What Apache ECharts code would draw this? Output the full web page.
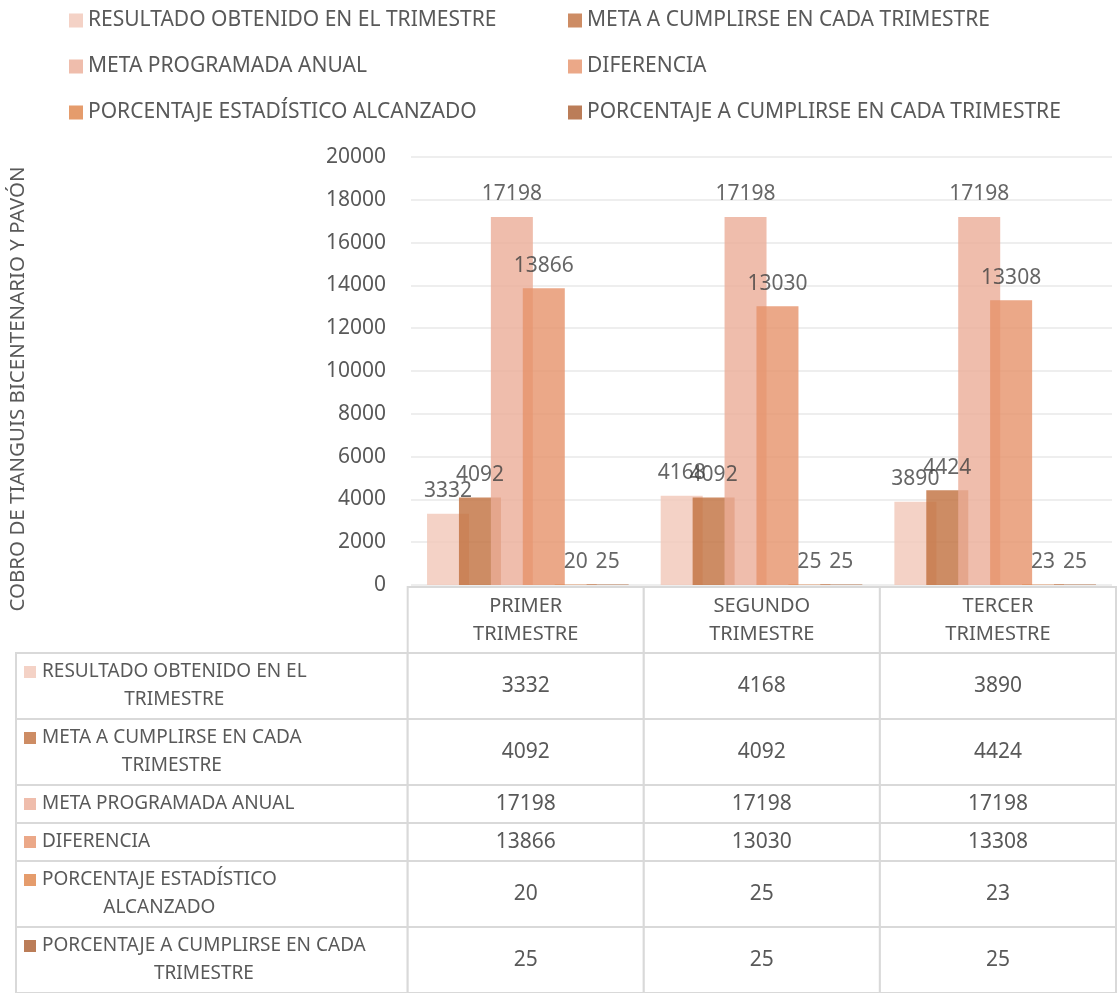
<!DOCTYPE html>
<html>
<head>
<meta charset="utf-8">
<script src="https://cdn.jsdelivr.net/npm/echarts@6/dist/echarts.min.js"></script>
<style>
  html, body { margin: 0; padding: 0; background: #fff; }
  #chart { width: 1117px; height: 993px; }
</style>
</head>
<body>
<div id="chart"></div>
<script>
const categories = ["PRIMER TRIMESTRE", "SEGUNDO TRIMESTRE", "TERCER TRIMESTRE"];
const seriesNames = [
  "RESULTADO OBTENIDO EN EL TRIMESTRE",
  "META A CUMPLIRSE EN CADA TRIMESTRE",
  "META PROGRAMADA ANUAL",
  "DIFERENCIA",
  "PORCENTAJE ESTADÍSTICO ALCANZADO",
  "PORCENTAJE A CUMPLIRSE EN CADA TRIMESTRE"
];
const resultado = [3332, 4168, 3890];
const metaTrimestre = [4092, 4092, 4424];
const metaAnual = [17198, 17198, 17198];
const diferencia = [13866, 13030, 13308];
const porcentajeAlcanzado = [20, 25, 23];
const porcentajeTrimestre = [25, 25, 25];
const yTicks = { min: 0, max: 20000, interval: 2000 };
const axisTitle = "COBRO DE TIANGUIS BICENTENARIO Y PAVÓN";

const allSeries = [resultado, metaTrimestre, metaAnual, diferencia, porcentajeAlcanzado, porcentajeTrimestre];
const colors = ["#f1c7b8", "#c06f3d", "#ebad97", "#e6926a", "#de8347", "#aa5c2e"];
const textColor = "#595959";
const labelFont = '19px "Noto Sans"';
const headerFont = '20px "Noto Sans"';
const valueFont = '21px "Noto Sans"';
const lineH = 28;

// simple word wrap so the table cells break like the original
const measureCtx = document.createElement("canvas").getContext("2d");
function wrapText(text, font, maxWidth) {
  measureCtx.font = font;
  const words = text.split(" ");
  const lines = [];
  let line = "";
  words.forEach((w) => {
    const test = line ? line + " " + w : w;
    if (line && measureCtx.measureText(test).width > maxWidth) {
      lines.push(line);
      line = w;
    } else {
      line = test;
    }
  });
  lines.push(line);
  const width = Math.max(...lines.map((l) => measureCtx.measureText(l).width));
  return { lines, width };
}

const labelColUnits = 392 / 236.3;
const headerWraps = categories.map((c) => wrapText(c, headerFont, 140));
const rowWraps = seriesNames.map((n) => wrapText(n, labelFont, 340));
const rowLines = [Math.max(...headerWraps.map((w) => w.lines.length))].concat(rowWraps.map((w) => w.lines.length));
const rowTops = [0];
rowLines.forEach((n) => rowTops.push(rowTops[rowTops.length - 1] + 10 + lineH * n));

const tableCells = [];
categories.forEach((c, ci) => tableCells.push([0, ci]));
seriesNames.forEach((n, ri) => {
  tableCells.push([ri + 1, -1]);
  categories.forEach((c, ci) => tableCells.push([ri + 1, ci]));
});

const chart = echarts.init(document.getElementById("chart"));

const barSeries = seriesNames.map((name, i) => ({
  name: name,
  type: "bar",
  xAxisIndex: 0,
  yAxisIndex: 0,
  data: allSeries[i],
  barWidth: 42,
  barGap: "-24%",
  itemStyle: { color: colors[i], opacity: 0.8 },
  label: {
    show: true,
    position: "top",
    distance: 12,
    fontSize: 21,
    fontFamily: "Noto Sans",
    color: "#404040"
  }
}));

const legendBase = {
  orient: "vertical",
  top: 5,
  itemGap: 25,
  itemWidth: 14,
  itemHeight: 14,
  icon: "rect",
  textStyle: { fontSize: 21, color: textColor, lineHeight: 20 }
};

chart.setOption({
  animation: false,
  textStyle: { fontFamily: "Noto Sans" },
  legend: [
    Object.assign({}, legendBase, { left: 64, data: [seriesNames[0], seriesNames[2], seriesNames[4]] }),
    Object.assign({}, legendBase, { left: 563, data: [seriesNames[1], seriesNames[3], seriesNames[5]] })
  ],
  grid: [
    { left: 405, right: 5, top: 157, bottom: 408 },
    { left: 16, right: 1, top: 587, bottom: 0 }
  ],
  xAxis: [
    {
      type: "category",
      gridIndex: 0,
      data: categories,
      axisLabel: { show: false },
      axisTick: { show: false },
      axisLine: { show: false }
    },
    { type: "value", gridIndex: 1, min: -labelColUnits, max: 3, show: false }
  ],
  yAxis: [
    {
      type: "value",
      gridIndex: 0,
      min: yTicks.min,
      max: yTicks.max,
      interval: yTicks.interval,
      name: axisTitle,
      nameLocation: "middle",
      nameGap: 382,
      nameTextStyle: { fontSize: 20.5, color: textColor, padding: [0, 36, 0, 0] },
      axisLabel: { fontSize: 21, color: textColor, margin: 25, formatter: (v) => String(v) },
      axisLine: { show: false },
      axisTick: { show: false },
      splitLine: { lineStyle: { color: "#e8e8e8", width: 1.5 } }
    },
    {
      type: "value",
      gridIndex: 1,
      inverse: true,
      min: 0,
      max: rowTops[rowTops.length - 1],
      show: false
    }
  ],
  series: barSeries.concat([
    {
      type: "custom",
      xAxisIndex: 1,
      yAxisIndex: 1,
      data: tableCells,
      silent: true,
      clip: false,
      renderItem: function (params, api) {
        const r = api.value(0);
        const c = api.value(1);
        const x0 = c < 0 ? -labelColUnits : c;
        const x1 = c < 0 ? 0 : c + 1;
        const pA = api.coord([x0, rowTops[r]]);
        const pB = api.coord([x1, rowTops[r + 1]]);
        const left = Math.min(pA[0], pB[0]);
        const top = Math.min(pA[1], pB[1]);
        const w = Math.abs(pB[0] - pA[0]);
        const h = Math.abs(pB[1] - pA[1]);
        const cy = top + h / 2;
        const children = [{
          type: "rect",
          shape: { x: left, y: top, width: w, height: h },
          style: { fill: "#fff", stroke: "#d9d9d9", lineWidth: 2 }
        }];
        if (r === 0) {
          children.push({
            type: "text",
            style: {
              text: headerWraps[c].lines.join("\n"),
              x: left + w / 2, y: cy,
              align: "center", verticalAlign: "middle",
              font: headerFont, lineHeight: lineH, fill: textColor
            }
          });
        } else if (c < 0) {
          const wrap = rowWraps[r - 1];
          const firstY = cy - (wrap.lines.length - 1) * lineH / 2;
          children.push({
            type: "rect",
            shape: { x: left + 8, y: firstY - 6, width: 12, height: 12 },
            style: { fill: colors[r - 1], opacity: 0.8 }
          });
          children.push({
            type: "text",
            style: {
              text: wrap.lines.join("\n"),
              x: left + 26 + wrap.width / 2, y: cy,
              align: "center", verticalAlign: "middle",
              font: labelFont, lineHeight: lineH, fill: textColor
            }
          });
        } else {
          children.push({
            type: "text",
            style: {
              text: String(allSeries[r - 1][c]),
              x: left + w / 2, y: cy,
              align: "center", verticalAlign: "middle",
              font: valueFont, lineHeight: lineH, fill: textColor
            }
          });
        }
        return { type: "group", children: children };
      }
    }
  ])
});

window.addEventListener("resize", () => chart.resize());
</script>
</body>
</html>
